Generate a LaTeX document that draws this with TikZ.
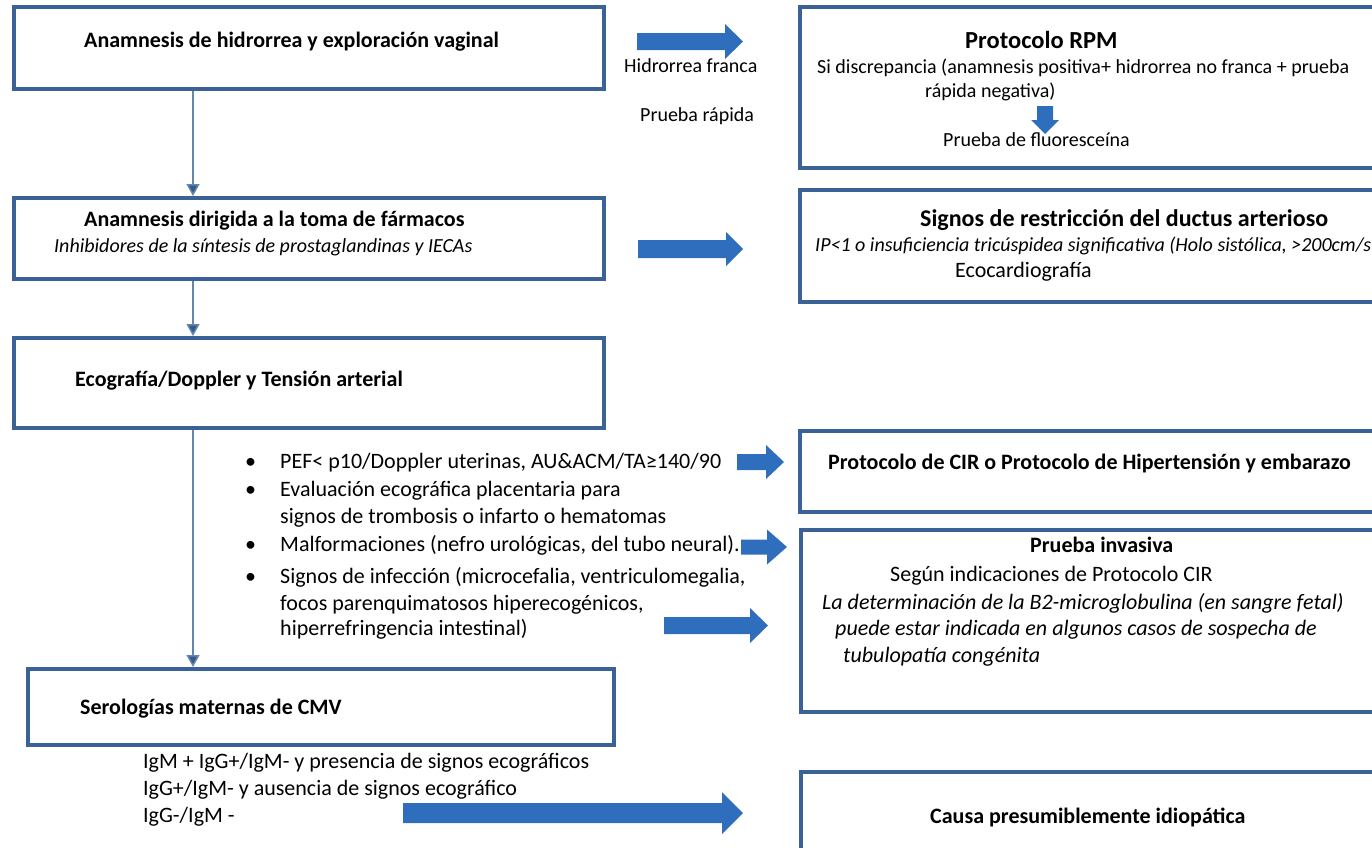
\documentclass[tikz,border=0pt]{standalone}
\usepackage{fontspec}
\setmainfont{Carlito}
\usetikzlibrary{arrows.meta,fit}
\definecolor{boxc}{RGB}{59,98,150}
\definecolor{arrc}{RGB}{46,110,188}
\definecolor{linec}{RGB}{100,135,175}
\definecolor{headc}{RGB}{52,90,138}
\newcommand\blockarr[6]{%
  \fill[arrc] (#1,#2-#5) -- (#3,#2-#5) -- (#3,#2-#6) -- (#4,#2) -- (#3,#2+#6) -- (#3,#2+#5) -- (#1,#2+#5) -- cycle;}
\begin{document}
\begin{tikzpicture}[x=1pt,y=-1pt,
  bx/.style={draw=boxc,line width=4pt,inner sep=0pt},
  tb/.style={anchor=base west,inner sep=0pt,font=\fontsize{22}{26}\selectfont\bfseries},
  tr/.style={anchor=base west,inner sep=0pt,font=\fontsize{20}{24}\selectfont},
  ti/.style={anchor=base west,inner sep=0pt,font=\fontsize{20}{24}\selectfont\itshape},
  tl/.style={anchor=base west,inner sep=0pt,font=\fontsize{22}{26}\selectfont},
  til/.style={anchor=base west,inner sep=0pt,font=\fontsize{22}{26}\selectfont\itshape},
  conn/.style={draw=linec,line width=1.5pt,-{Triangle[width=13pt,length=12pt,fill=headc]}}]
\useasboundingbox (0,0) rectangle (1372,847);
% left boxes
\node[bx,fit={(14,7) (604,89)}] (boxA) {};
\node[bx,fit={(14,198) (604,279)}] (boxB) {};
\node[bx,fit={(14,338) (604,428)}] (boxC) {};
\node[bx,fit={(28,669) (614,745)}] (boxD) {};
% right boxes
\node[bx,fit={(800,7) (1385,168)}] (rA) {};
\node[bx,fit={(800,190) (1385,302)}] (rB) {};
\node[bx,fit={(800,431) (1385,512)}] (rC) {};
\node[bx,fit={(801,530) (1385,712)}] (rD) {};
\node[bx,fit={(801,772) (1385,900)}] (rE) {};
% connectors
\coordinate (cx) at (193,0);
\draw[conn] (cx |- boxA.south) -- (cx |- boxB.north);
\draw[conn] (cx |- boxB.south) -- (cx |- boxC.north);
\draw[conn] (cx |- boxC.south) -- (cx |- boxD.north);
% block arrows
\blockarr{637}{41.5}{725}{743}{8.5}{17.5}
\blockarr{638}{249}{726}{743}{9}{17}
\blockarr{737}{462}{766}{784}{8}{17}
\blockarr{741}{547}{767}{787}{7.5}{17.5}
\blockarr{664}{625.5}{750}{768}{8.5}{17.5}
\blockarr{403}{813}{722}{743}{10}{21}
\fill[arrc] (1037,106) -- (1053,106) -- (1053,120) -- (1059,120) -- (1045,134) -- (1031,120) -- (1037,120) -- cycle;
% texts
\node[tb] (tA) at (84,47) {Anamnesis de hidrorrea y exploración vaginal};
\node[tr] (tHf) at (624,72) {Hidrorrea franca};
\node[tr] (tPr) at (640,121) {Prueba rápida};
\node[tb,font=\fontsize{24.5}{28}\selectfont\bfseries] (tRPM) at (965,48) {Protocolo RPM};
\node[tr] (tSi) at (817,73) {Si discrepancia (anamnesis positiva+ hidrorrea no franca + prueba};
\node[tr] (tRn) at (925,97) {rápida negativa)};
\node[tr] (tFl) at (943,146) {Prueba de fluoresceína};
\node[tb] (tB) at (84,226) {Anamnesis dirigida a la toma de fármacos};
\node[ti] (tBi) at (54,252) {Inhibidores de la síntesis de prostaglandinas y IECAs};
\node[tb,font=\fontsize{24}{28}\selectfont\bfseries] (tSg) at (920,226) {Signos de restricción del ductus arterioso};
\node[ti] (tIP) at (815,251) {IP<1 o insuficiencia tricúspidea significativa (Holo sistólica, >200cm/s};
\node[tl] (tEc) at (955,277) {Ecocardiografía};
\node[tb] (tC) at (75,386) {Ecografía/Doppler y Tensión arterial};
\node[tl] (b1) at (245,468) {•};
\node[tl] (l1) at (280,468) {PEF< p10/Doppler uterinas, AU\&ACM/TA≥140/90};
\node[tl] (b2) at (245,496) {•};
\node[tl] (l2) at (280,496) {Evaluación ecográfica placentaria para};
\node[tl] (l3) at (280,523) {signos de trombosis o infarto o hematomas};
\node[tl] (b3) at (245,551) {•};
\node[tl] (l4) at (280,551) {Malformaciones (nefro urológicas, del tubo neural).};
\node[tl] (b4) at (245,583) {•};
\node[tl] (l5) at (280,583) {Signos de infección (microcefalia, ventriculomegalia,};
\node[tl] (l6) at (280,610) {focos parenquimatosos hiperecogénicos,};
\node[tl] (l7) at (280,635) {hiperrefringencia intestinal)};
\node[tb] (tCIR) at (828,469) {Protocolo de CIR o Protocolo de Hipertensión y embarazo};
\node[tb] (tPi) at (1030,552) {Prueba invasiva};
\node[tl] (tSe) at (890,581) {Según indicaciones de Protocolo CIR};
\node[til] (tLa) at (822,609) {La determinación de la B2-microglobulina (en sangre fetal)};
\node[til] (tPu) at (835,635) {puede estar indicada en algunos casos de sospecha de};
\node[til] (tTu) at (843,662) {tubulopatía congénita};
\node[tb] (tD) at (80,714) {Serologías maternas de CMV};
\node[tl] (s1) at (143,768) {IgM + IgG+/IgM- y presencia de signos ecográficos};
\node[tl] (s2) at (143,795) {IgG+/IgM- y ausencia de signos ecográfico};
\node[tl] (s3) at (143,822) {IgG-/IgM -};
\node[tb] (tCa) at (930,823) {Causa presumiblemente idiopática};
\end{tikzpicture}
\end{document}
